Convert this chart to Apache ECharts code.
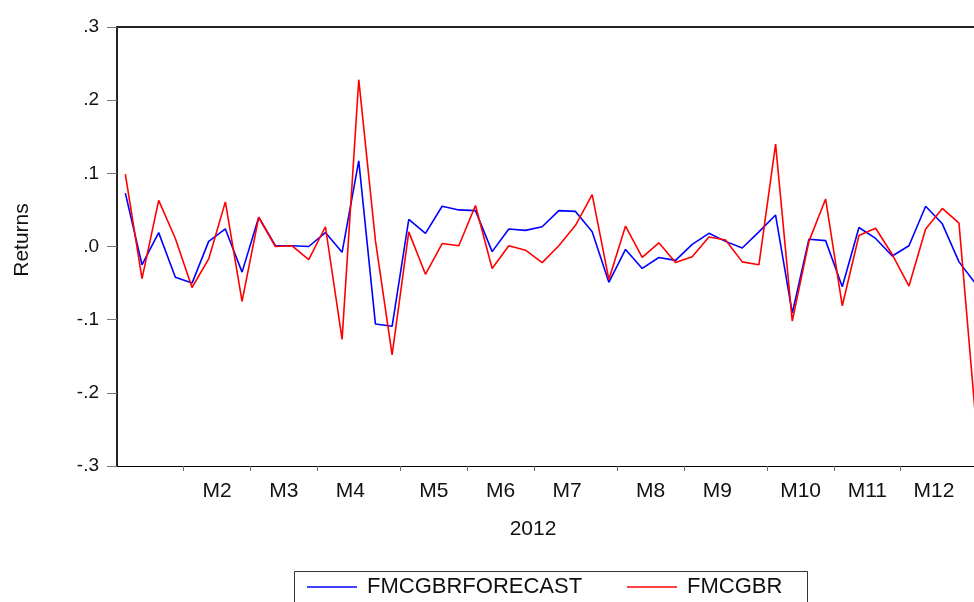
<!DOCTYPE html>
<html>
<head>
<meta charset="utf-8">
<title>FMCGBR weekly returns 2012</title>
<script src="https://cdn.jsdelivr.net/npm/echarts@6/dist/echarts.min.js"></script>
<style>
  html, body { margin: 0; padding: 0; background: #fff; overflow: hidden; }
  /* the plot runs slightly past the right edge of the page */
  #chart { width: 984px; height: 602px; }
</style>
</head>
<body>
<div id="chart"></div>
<script>
// Weekly observations for 2012 (52 weeks), index 0 = first week of January
const weekIndex = Array.from({ length: 52 }, (_, i) => i);

// Forecast returns (blue)
const fmcgbrForecast = [
  0.073, -0.025, 0.019, -0.042, -0.050, 0.007, 0.024, -0.035, 0.040, 0.001,
  0.001, 0.000, 0.019, -0.008, 0.117, -0.106, -0.109, 0.037, 0.018, 0.055,
  0.050, 0.049, -0.007, 0.024, 0.022, 0.027, 0.049, 0.048, 0.020, -0.049,
  -0.004, -0.030, -0.015, -0.019, 0.003, 0.018, 0.007, -0.002, 0.020, 0.043,
  -0.091, 0.010, 0.008, -0.055, 0.026, 0.011, -0.013, 0.001, 0.055, 0.031,
  -0.021, -0.051
];

// Actual returns (red)
const fmcgbr = [
  0.099, -0.044, 0.063, 0.011, -0.056, -0.017, 0.061, -0.075, 0.040, 0.000,
  0.001, -0.018, 0.027, -0.127, 0.228, 0.008, -0.148, 0.020, -0.038, 0.004,
  0.001, 0.056, -0.030, 0.001, -0.005, -0.022, 0.001, 0.029, 0.071, -0.045,
  0.028, -0.015, 0.005, -0.022, -0.014, 0.013, 0.009, -0.021, -0.025, 0.140,
  -0.102, 0.007, 0.065, -0.081, 0.015, 0.025, -0.011, -0.054, 0.024, 0.052,
  0.032, -0.236
];

// Month labels and the week index at which each month begins
const monthLabels = ['M2', 'M3', 'M4', 'M5', 'M6', 'M7', 'M8', 'M9', 'M10', 'M11', 'M12'];
const monthStarts = [4, 8, 12, 17, 21, 25, 30, 34, 39, 43, 47];

// Y-axis tick labels
const yTickLabels = ['-.3', '-.2', '-.1', '.0', '.1', '.2', '.3'];

const FONT = '"Liberation Sans", Arial, Helvetica, sans-serif';

// Tick marks sit on the boundary before each month's first week;
// labels sit a week and a half into each month.
const monthTickValues = monthStarts.map(s => s - 0.5);
const monthLabelValues = monthStarts.map(s => s + 1.5);

const chart = echarts.init(document.getElementById('chart'), null, { renderer: 'canvas' });

// shared look of the two legend entries
function legendEntry(left, name) {
  return {
    left: left,
    top: 576,
    orient: 'horizontal',
    icon: 'rect',
    itemWidth: 50,
    itemHeight: 1.6,
    padding: 0,
    textStyle: { fontFamily: FONT, fontSize: 22, color: '#111', padding: [0, 0, 0, 5] },
    data: [name]
  };
}

const option = {
  animation: false,
  backgroundColor: '#ffffff',
  grid: { left: 117, top: 27, right: 0, bottom: 136, containLabel: false },
  xAxis: [
    {
      type: 'value',
      min: -0.5,
      max: 51.5,
      position: 'bottom',
      splitLine: { show: false },
      axisLine: { show: true, onZero: false, lineStyle: { color: '#000', width: 1.2 } },
      axisTick: {
        show: true,
        inside: false,
        length: 5,
        customValues: monthTickValues,
        lineStyle: { color: '#666', width: 1 }
      },
      axisLabel: {
        show: true,
        customValues: monthLabelValues,
        margin: 15,
        color: '#111',
        fontFamily: FONT,
        fontSize: 21,
        formatter: function (v) {
          const k = monthLabelValues.indexOf(v);
          return k >= 0 ? monthLabels[k] : '';
        }
      }
    },
    {
      // top frame line of the plot
      type: 'value',
      min: -0.5,
      max: 51.5,
      position: 'top',
      splitLine: { show: false },
      axisLine: { show: true, onZero: false, lineStyle: { color: '#222', width: 2 } },
      axisTick: { show: false },
      axisLabel: { show: false }
    }
  ],
  yAxis: {
    type: 'value',
    min: -0.3,
    max: 0.3,
    interval: 0.1,
    splitLine: { show: false },
    axisLine: { show: true, onZero: false, lineStyle: { color: '#222', width: 2 } },
    axisTick: { show: true, inside: false, length: 10, lineStyle: { color: '#777', width: 1 } },
    axisLabel: {
      margin: 18,
      color: '#111',
      fontFamily: FONT,
      fontSize: 19,
      formatter: function (v) {
        const k = Math.round(v * 10) + 3;
        return yTickLabels[k];
      }
    }
  },
  legend: [
    legendEntry(307, 'FMCGBRFORECAST'),
    legendEntry(627, 'FMCGBR')
  ],
  graphic: [
    {
      // frame around the legend
      type: 'rect',
      shape: { x: 294.5, y: 571.5, width: 513, height: 40 },
      style: { fill: 'none', stroke: '#333', lineWidth: 1 }
    },
    {
      type: 'text',
      x: 22,
      y: 240,
      rotation: Math.PI / 2,
      style: {
        text: 'Returns',
        fill: '#111',
        font: '21px ' + FONT,
        align: 'center',
        verticalAlign: 'middle'
      }
    },
    {
      type: 'text',
      x: 533,
      y: 529,
      style: {
        text: '2012',
        fill: '#111',
        font: '21px ' + FONT,
        align: 'center',
        verticalAlign: 'middle'
      }
    }
  ],
  series: [
    {
      name: 'FMCGBRFORECAST',
      type: 'line',
      xAxisIndex: 0,
      symbol: 'none',
      lineStyle: { color: '#0000ff', width: 1.6 },
      itemStyle: { color: '#0000ff' },
      data: weekIndex.map(i => [i, fmcgbrForecast[i]])
    },
    {
      name: 'FMCGBR',
      type: 'line',
      xAxisIndex: 0,
      symbol: 'none',
      lineStyle: { color: '#ff0000', width: 1.6 },
      itemStyle: { color: '#ff0000' },
      data: weekIndex.map(i => [i, fmcgbr[i]])
    }
  ]
};

chart.setOption(option);
</script>
</body>
</html>
